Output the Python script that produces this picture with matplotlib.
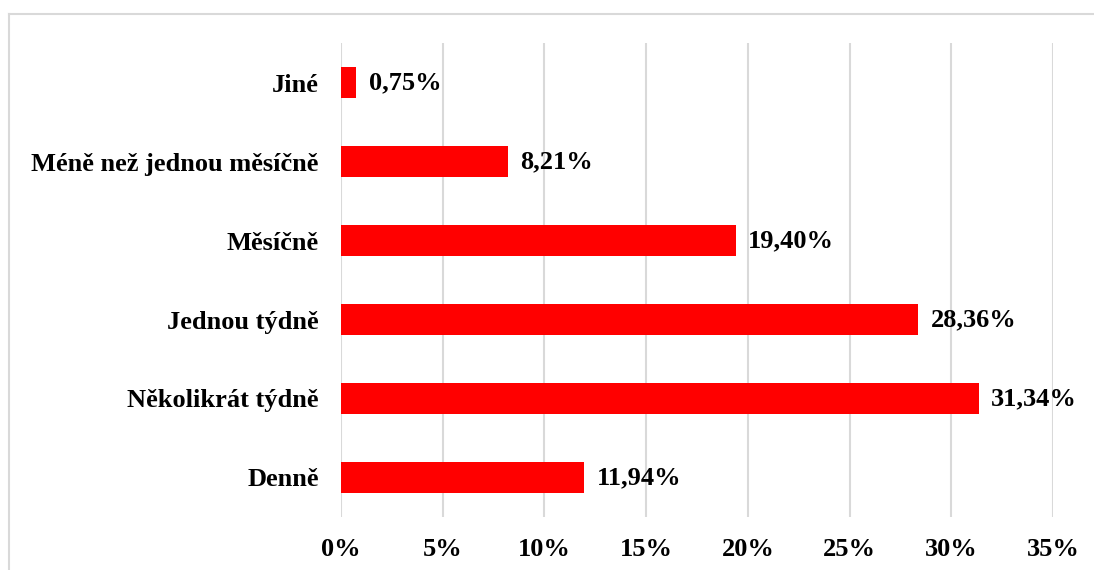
import matplotlib
matplotlib.use('Agg')
import matplotlib.pyplot as plt
from matplotlib.lines import Line2D

categories = ['Denně', 'Několikrát týdně', 'Jednou týdně', 'Měsíčně',
              'Méně než jednou měsíčně', 'Jiné']
values = [11.94, 31.34, 28.36, 19.40, 8.21, 0.75]
ticks = [0, 5, 10, 15, 20, 25, 30, 35]

plt.rcParams['font.family'] = ['Liberation Serif', 'DejaVu Serif']
plt.rcParams['font.weight'] = 'bold'

fig = plt.figure(figsize=(10.94, 5.70), dpi=100)
ax = fig.add_axes([341 / 1094, 1 - 517 / 570, (1053 - 341) / 1094, (517 - 43) / 570])

ax.barh(range(len(categories)), values, height=0.38, color='#ff0000', zorder=3)
for i, v in enumerate(values):
    ax.annotate(f'{v:.2f}'.replace('.', ',') + '%', (v, i), xytext=(9, 0),
                textcoords='offset points', va='center', ha='left',
                fontsize=19, fontweight='bold')

ax.set_xlim(0, 35)
ax.set_ylim(-0.5, len(categories) - 0.5)
ax.set_xticks(ticks)
ax.set_xticklabels([f'{t}%' for t in ticks])
ax.set_yticks(range(len(categories)))
ax.set_yticklabels(categories)
ax.tick_params(axis='both', length=0, labelsize=19)
ax.tick_params(axis='y', pad=16)
ax.tick_params(axis='x', pad=15)
for lab in ax.get_xticklabels() + ax.get_yticklabels():
    lab.set_fontweight('bold')
ax.grid(axis='x', color='#d9d9d9', linewidth=1.5, zorder=0)
for s in ax.spines.values():
    s.set_visible(False)

# outer frame (top and left edges visible)
fig.add_artist(Line2D([9 / 1094, 1], [1 - 14 / 570, 1 - 14 / 570], color='#d9d9d9', lw=1.5))
fig.add_artist(Line2D([9 / 1094, 9 / 1094], [0, 1 - 14 / 570], color='#d9d9d9', lw=1.5))

fig.savefig('out.png', dpi=100)
